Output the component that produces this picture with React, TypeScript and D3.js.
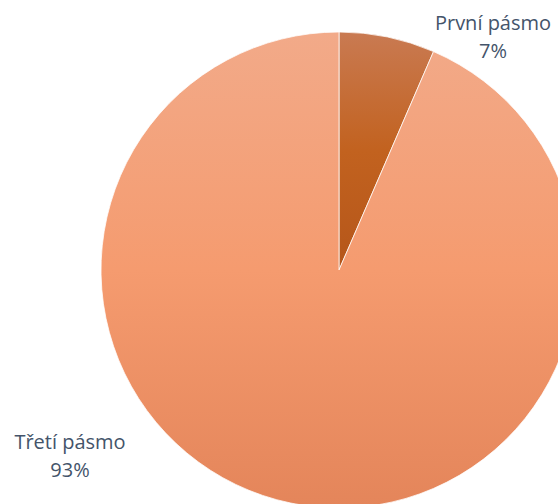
import React from "react";
import * as d3 from "d3";

const categories = ["První pásmo", "Třetí pásmo"];
const values = [6.5, 93.5];
const labels = ["7%", "93%"];

const W = 558;
const H = 504;
const cx = 339;
const cy = 270;
const R = 238;

const labelPos = [
  { x: 493, y: 30 },
  { x: 70, y: 449 },
];

export default function App() {
  const pie = d3.pie<number>().sort(null).value((d) => d);
  const arcs = pie(values);
  const arc = d3.arc<d3.PieArcDatum<number>>().innerRadius(0).outerRadius(R);
  const fills = ["url(#g0)", "url(#g1)"];
  return (
    <svg
      width={W}
      height={H}
      style={{ position: "absolute", left: 0, top: 0, background: "#fff" }}
    >
      <defs>
        <linearGradient id="g0" x1="0" y1="0" x2="0" y2="1">
          <stop offset="0" stopColor="#c97a52" />
          <stop offset="0.5" stopColor="#c2621f" />
          <stop offset="1" stopColor="#b5561a" />
        </linearGradient>
        <linearGradient id="g1" x1="0" y1="0" x2="0" y2="1">
          <stop offset="0" stopColor="#f2aa89" />
          <stop offset="0.5" stopColor="#f59b6f" />
          <stop offset="1" stopColor="#e4855a" />
        </linearGradient>
      </defs>
      <g transform={`translate(${cx},${cy})`}>
        {arcs.map((a, i) => (
          <path key={i} d={arc(a) || ""} fill={fills[i]} stroke="#fff" strokeWidth={0.75} />
        ))}
      </g>
      {categories.map((c, i) => (
        <text
          key={c}
          x={labelPos[i].x}
          y={labelPos[i].y}
          textAnchor="middle"
          fill="#44546a"
          fontFamily="'Open Sans', sans-serif"
          fontSize={20}
        >
          <tspan x={labelPos[i].x}>{c}</tspan>
          <tspan x={labelPos[i].x} dy={28}>{labels[i]}</tspan>
        </text>
      ))}
    </svg>
  );
}
